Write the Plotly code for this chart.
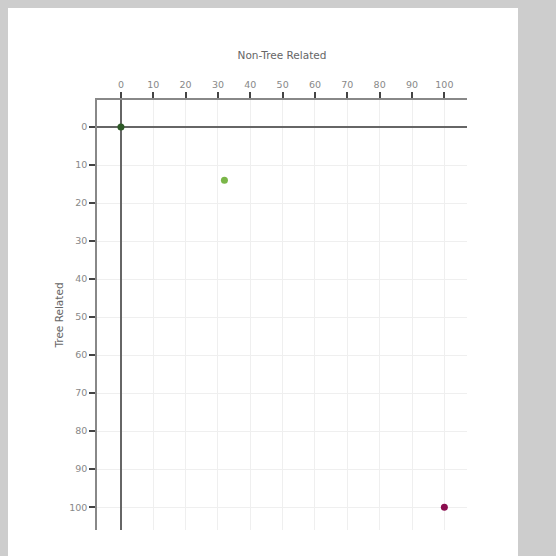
import plotly.graph_objects as go

non_tree = [0, 32, 100]
tree = [0, 14, 100]
colors = ["#2d5a27", "#7ab648", "#8a0d4f"]
x_ticks = [0, 10, 20, 30, 40, 50, 60, 70, 80, 90, 100]
y_ticks = [0, 10, 20, 30, 40, 50, 60, 70, 80, 90, 100]

fig = go.Figure()
fig.add_trace(go.Scatter(
    x=non_tree, y=tree, mode="markers",
    marker=dict(color=colors, size=7),
    showlegend=False, hoverinfo="x+y"))

W, H = 556, 556
ml, mr, mt, mb = 97, 89, 100, 26
pw, ph = W - ml - mr, H - mt - mb

fig.add_shape(type="rect", xref="paper", yref="paper",
              x0=(8 - ml) / pw, x1=(518 - ml) / pw,
              y0=(H - mb - 560) / ph, y1=(H - mb - 8) / ph,
              fillcolor="white", line=dict(width=0), layer="below")

axis_common = dict(
    showgrid=True, gridcolor="#efefef", gridwidth=1,
    zeroline=True, zerolinecolor="#666", zerolinewidth=1.5,
    showline=True, linecolor="#888", linewidth=1.5,
    ticks="outside", ticklen=6, tickwidth=2, tickcolor="#444",
    tickfont=dict(family="DejaVu Sans", size=9.5, color="#888"),
)

fig.update_layout(
    width=W, height=H,
    margin=dict(l=ml, r=mr, t=mt, b=mb),
    paper_bgcolor="#cdcdcd", plot_bgcolor="white",
    xaxis=dict(side="top", range=[-7.4, 107], tickvals=x_ticks,
               title=dict(text="Non-Tree Related", standoff=18,
                          font=dict(family="DejaVu Sans", size=10.5, color="#666")),
               **axis_common),
    yaxis=dict(range=[106, -7.1], tickvals=y_ticks,
               title=dict(text="Tree Related", standoff=4,
                          font=dict(family="DejaVu Sans", size=10.5, color="#666")),
               **axis_common),
)

fig.write_html("out.html", config={"displayModeBar": False},
               post_script="document.body.style.margin='0';document.body.style.background='#cdcdcd';")
